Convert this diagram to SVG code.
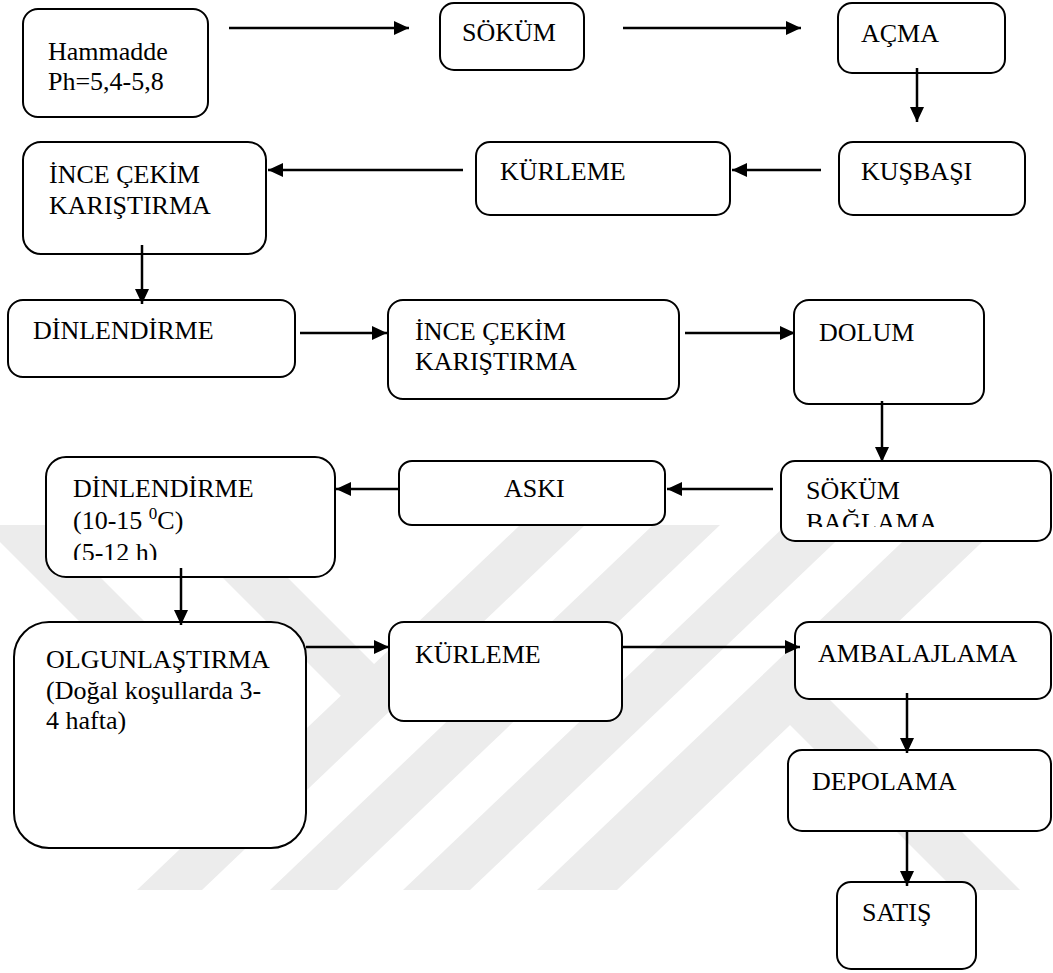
<svg xmlns="http://www.w3.org/2000/svg" width="1053" height="973" viewBox="0 0 1053 973">
<defs>
<marker id="ah" markerUnits="userSpaceOnUse" markerWidth="16" markerHeight="14" refX="15" refY="7" orient="auto">
<path d="M0,0 L15,7 L0,14 Z" fill="#000"/>
</marker>
<clipPath id="clipSB"><rect x="779" y="461" width="272" height="66"/></clipPath>
<clipPath id="clipD2"><rect x="46" y="457" width="288" height="103"/></clipPath>
</defs>
<style>
.box{fill:#fff;stroke:#000;stroke-width:2}
.t{font-family:"Liberation Serif","Times New Roman",serif;font-size:26px;fill:#000}
.sup{font-size:17px}
.c line{stroke:#000;stroke-width:2.5;marker-end:url(#ah)}
.wm{fill:#ececec}
</style>
<rect width="1053" height="973" fill="#fff"/>
<g id="watermark" class="wm">
<polygon points="137,890 202,890 585,525 520,525"/>
<polygon points="270,890 337,890 720,525 653,525"/>
<polygon points="403,890 470,890 853,525 786,525"/>
<polygon points="537,890 617,890 1000,525 920,525"/>
<polygon points="170,525 235,525 406,696 341,696"/>
<polygon points="-17,525 48,525 310,787 245,787"/>
<polygon points="758,693 823,693 1020,890 955,890"/>
</g>
<g id="n1"><rect class="box" x="23" y="9" width="185" height="108" rx="15"/><text class="t" x="48" y="60">Hammadde</text><text class="t" x="48" y="90">Ph=5,4-5,8</text></g>
<g id="n2"><rect class="box" x="440" y="3" width="144" height="67" rx="14"/><text class="t" x="462" y="41">SÖKÜM</text></g>
<g id="n3"><rect class="box" x="838" y="3" width="167" height="70" rx="14"/><text class="t" x="861" y="42">AÇMA</text></g>
<g id="n4"><rect class="box" x="839" y="142" width="186" height="73" rx="14"/><text class="t" x="861" y="180">KUŞBAŞI</text></g>
<g id="n5"><rect class="box" x="476" y="142" width="254" height="73" rx="14"/><text class="t" x="500" y="180">KÜRLEME</text></g>
<g id="n6"><rect class="box" x="23" y="142" width="243" height="112" rx="18"/><text class="t" x="49" y="183">İNCE ÇEKİM</text><text class="t" x="49" y="214">KARIŞTIRMA</text></g>
<g id="n7"><rect class="box" x="8" y="300" width="287" height="77" rx="15"/><text class="t" x="33" y="339">DİNLENDİRME</text></g>
<g id="n8"><rect class="box" x="388" y="300" width="291" height="99" rx="15"/><text class="t" x="415" y="340">İNCE ÇEKİM</text><text class="t" x="415" y="370">KARIŞTIRMA</text></g>
<g id="n9"><rect class="box" x="794" y="300" width="190" height="104" rx="15"/><text class="t" x="819" y="341">DOLUM</text></g>
<g id="n10"><rect class="box" x="781" y="461" width="270" height="80" rx="14"/><g clip-path="url(#clipSB)"><text class="t" x="806" y="499">SÖKÜM</text><text class="t" x="806" y="531">BAĞLAMA</text></g></g>
<g id="n11"><rect class="box" x="399" y="461" width="266" height="64" rx="13"/><text class="t" x="504" y="497">ASKI</text></g>
<g id="n12"><rect class="box" x="46" y="457" width="289" height="120" rx="20"/><g clip-path="url(#clipD2)"><text class="t" x="73" y="497">DİNLENDİRME</text><text class="t" x="73" y="529">(10-15 <tspan class="sup" dy="-10">0</tspan><tspan dy="10">C)</tspan></text><text class="t" x="73" y="561">(5-12 h)</text></g></g>
<g id="n13"><rect class="box" x="14" y="622" width="292" height="226" rx="35"/><text class="t" x="46" y="668">OLGUNLAŞTIRMA</text><text class="t" x="46" y="699">(Doğal koşullarda 3-</text><text class="t" x="46" y="729">4 hafta)</text></g>
<g id="n14"><rect class="box" x="389" y="622" width="233" height="99" rx="15"/><text class="t" x="415" y="663">KÜRLEME</text></g>
<g id="n15"><rect class="box" x="795" y="622" width="256" height="77" rx="14"/><text class="t" x="818" y="662">AMBALAJLAMA</text></g>
<g id="n16"><rect class="box" x="788" y="750" width="263" height="81" rx="14"/><text class="t" x="812" y="790">DEPOLAMA</text></g>
<g id="n17"><rect class="box" x="837" y="882" width="139" height="87" rx="14"/><text class="t" x="862" y="921">SATIŞ</text></g>
<g id="connectors" class="c">
<line x1="229" y1="28" x2="409" y2="28"/>
<line x1="623" y1="28" x2="801" y2="28"/>
<line x1="917" y1="68" x2="917" y2="122"/>
<line x1="821" y1="170" x2="732" y2="170"/>
<line x1="463" y1="170" x2="268" y2="170"/>
<line x1="142" y1="245" x2="142" y2="304"/>
<line x1="300" y1="333" x2="387" y2="333"/>
<line x1="685" y1="333" x2="795" y2="333"/>
<line x1="882" y1="401" x2="882" y2="462"/>
<line x1="773" y1="489" x2="667" y2="489"/>
<line x1="399" y1="489" x2="336" y2="489"/>
<line x1="181" y1="568" x2="181" y2="625"/>
<line x1="306" y1="647" x2="389" y2="647"/>
<line x1="622" y1="647" x2="800" y2="647"/>
<line x1="907" y1="693" x2="907" y2="753"/>
<line x1="907" y1="830" x2="907" y2="886"/>
</g>
</svg>
